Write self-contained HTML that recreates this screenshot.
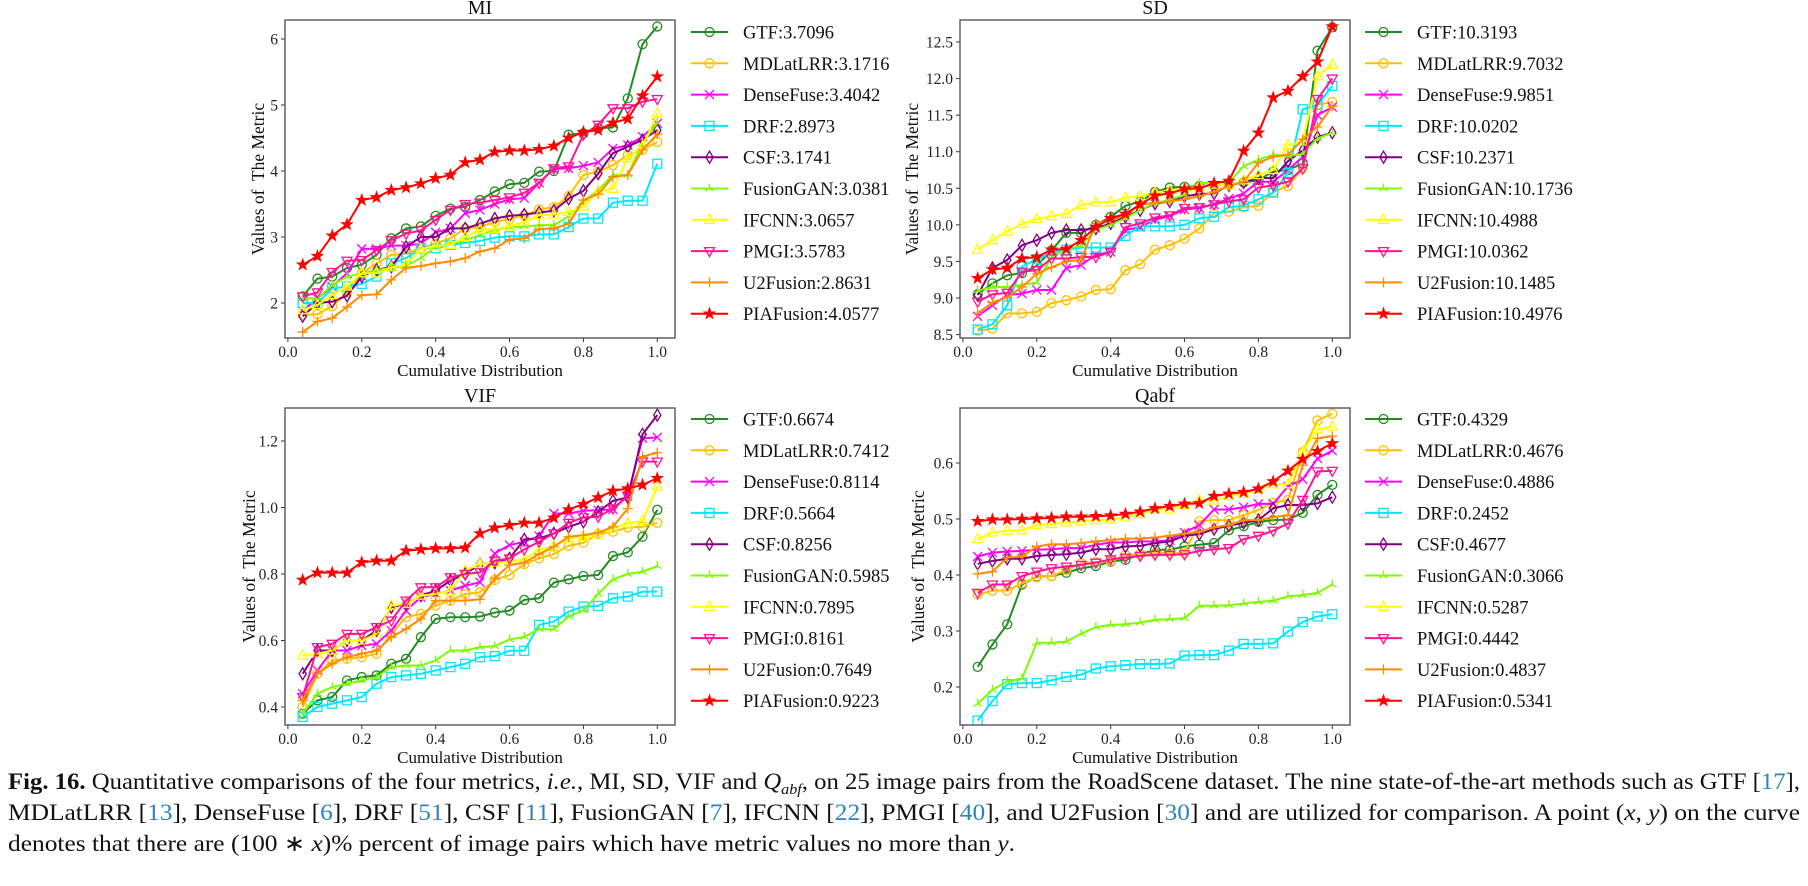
<!DOCTYPE html>
<html><head><meta charset="utf-8"><style>
html,body{margin:0;padding:0;background:#fff;}
svg{display:block;font-family:"Liberation Serif",serif;}
</style></head><body>
<svg id="fig" width="1808" height="886" viewBox="0 0 1808 886" xmlns="http://www.w3.org/2000/svg">
<g id="caption" font-size="23" fill="#111">
<text x="8" y="789" textLength="1792" lengthAdjust="spacingAndGlyphs"><tspan font-weight="bold">Fig. 16.</tspan>  Quantitative comparisons of the four metrics, <tspan font-style="italic">i.e.</tspan>, MI, SD, VIF and <tspan font-style="italic">Q</tspan><tspan font-style="italic" font-size="15" dy="5">abf</tspan><tspan dy="-5">, on 25 image pairs from the RoadScene dataset. The nine state-of-the-art methods such as GTF [</tspan><tspan fill="#2a86b8">17</tspan>],</text>
<text x="8" y="820" textLength="1792" lengthAdjust="spacingAndGlyphs">MDLatLRR [<tspan fill="#2a86b8">13</tspan>], DenseFuse [<tspan fill="#2a86b8">6</tspan>], DRF [<tspan fill="#2a86b8">51</tspan>], CSF [<tspan fill="#2a86b8">11</tspan>], FusionGAN [<tspan fill="#2a86b8">7</tspan>], IFCNN [<tspan fill="#2a86b8">22</tspan>], PMGI [<tspan fill="#2a86b8">40</tspan>], and U2Fusion [<tspan fill="#2a86b8">30</tspan>] and are utilized for comparison. A point (<tspan font-style="italic">x</tspan>, <tspan font-style="italic">y</tspan>) on the curve</text>
<text x="8" y="851" textLength="1007" lengthAdjust="spacingAndGlyphs">denotes that there are (100 ∗ <tspan font-style="italic">x</tspan>)% percent of image pairs which have metric values no more than <tspan font-style="italic">y</tspan>.</text>
</g>
</svg>
<script>
const cumX = [0.04,0.08,0.12,0.16,0.20,0.24,0.28,0.32,0.36,0.40,0.44,0.48,0.52,0.56,0.60,0.64,0.68,0.72,0.76,0.80,0.84,0.88,0.92,0.96,1.00];
const methods = ["GTF","MDLatLRR","DenseFuse","DRF","CSF","FusionGAN","IFCNN","PMGI","U2Fusion","PIAFusion"];

const mi_GTF = [2.10,2.37,2.40,2.53,2.58,2.73,2.98,3.13,3.16,3.32,3.43,3.46,3.56,3.69,3.80,3.82,3.99,4.00,4.55,4.57,4.65,4.66,5.10,5.92,6.19];
const mi_MDL = [1.82,1.83,1.95,2.16,2.45,2.60,2.73,2.75,2.83,2.90,2.98,3.13,3.15,3.23,3.27,3.33,3.42,3.45,3.62,3.94,3.99,4.09,4.24,4.32,4.44];
const mi_Dense = [1.88,2.07,2.25,2.45,2.82,2.82,2.87,2.87,2.90,3.07,3.13,3.36,3.41,3.50,3.57,3.59,3.82,4.03,4.04,4.08,4.13,4.34,4.39,4.52,4.72];
const mi_DRF = [2.00,2.00,2.22,2.25,2.29,2.40,2.60,2.68,2.83,2.83,2.88,2.91,2.94,2.99,3.01,3.01,3.04,3.04,3.15,3.28,3.28,3.52,3.55,3.55,4.11];
const mi_CSF = [1.80,2.00,2.02,2.11,2.40,2.50,2.55,2.85,3.00,3.00,3.13,3.13,3.20,3.28,3.32,3.34,3.37,3.40,3.58,3.70,3.96,4.27,4.37,4.47,4.62];
const mi_FGAN = [2.07,2.07,2.27,2.40,2.45,2.50,2.53,2.56,2.68,2.85,2.90,2.95,3.03,3.11,3.15,3.16,3.18,3.18,3.31,3.54,3.71,3.94,3.94,4.42,4.73];
const mi_IFCNN = [1.89,1.97,2.12,2.25,2.45,2.45,2.54,2.58,2.82,2.86,2.88,3.00,3.11,3.12,3.16,3.23,3.33,3.34,3.38,3.46,3.69,3.73,4.19,4.37,4.87];
const mi_PMGI = [2.10,2.16,2.47,2.64,2.65,2.80,2.95,3.05,3.10,3.26,3.41,3.50,3.52,3.56,3.60,3.67,3.82,4.04,4.07,4.55,4.70,4.95,4.95,5.05,5.09];
const mi_U2 = [1.56,1.72,1.77,1.94,2.12,2.13,2.35,2.53,2.56,2.60,2.63,2.68,2.78,2.83,2.96,2.98,3.12,3.13,3.20,3.56,3.65,3.91,3.94,4.32,4.56];
const mi_PIA = [2.58,2.71,3.02,3.19,3.56,3.60,3.71,3.75,3.81,3.89,3.94,4.13,4.17,4.29,4.31,4.31,4.33,4.38,4.50,4.59,4.62,4.73,4.79,5.14,5.43];

const sd_GTF = [9.05,9.20,9.31,9.34,9.44,9.65,9.89,9.89,10.00,10.11,10.26,10.32,10.45,10.51,10.52,10.53,10.54,10.55,10.58,10.61,10.73,10.75,10.84,12.38,12.70];
const sd_MDL = [8.55,8.58,8.79,8.79,8.81,8.93,8.97,9.02,9.11,9.12,9.38,9.46,9.66,9.72,9.81,9.95,10.16,10.18,10.24,10.26,10.45,10.53,10.77,11.64,11.68];
const sd_Dense = [8.75,8.90,9.04,9.06,9.11,9.11,9.41,9.45,9.59,9.63,9.93,9.97,10.07,10.12,10.21,10.23,10.28,10.36,10.43,10.59,10.59,10.75,10.93,11.50,11.61];
const sd_DRF = [8.57,8.64,8.90,9.43,9.53,9.62,9.66,9.69,9.69,9.69,9.85,9.98,9.98,9.98,10.00,10.09,10.11,10.24,10.26,10.35,10.44,10.71,11.58,11.64,11.90];
const sd_CSF = [9.04,9.41,9.52,9.72,9.79,9.89,9.93,9.93,9.95,10.02,10.11,10.20,10.29,10.32,10.39,10.42,10.43,10.54,10.58,10.64,10.64,10.87,11.02,11.20,11.26];
const sd_FGAN = [9.10,9.15,9.15,9.18,9.21,9.56,9.66,9.72,9.93,10.00,10.09,10.20,10.30,10.34,10.41,10.57,10.58,10.58,10.80,10.89,10.96,10.94,10.97,11.18,11.26];
const sd_IFCNN = [9.66,9.79,9.91,10.01,10.08,10.12,10.15,10.27,10.31,10.31,10.37,10.39,10.44,10.47,10.50,10.52,10.55,10.54,10.61,10.68,10.75,11.09,11.14,12.03,12.19];
const sd_PMGI = [8.95,9.05,9.07,9.36,9.38,9.54,9.54,9.56,9.56,9.63,9.97,10.02,10.10,10.13,10.23,10.24,10.28,10.32,10.35,10.51,10.54,10.59,10.77,11.72,12.00];
const sd_U2 = [8.79,8.94,9.01,9.15,9.33,9.42,9.50,9.52,10.02,10.07,10.13,10.28,10.30,10.32,10.35,10.39,10.45,10.53,10.59,10.85,10.93,10.96,11.17,11.34,11.62];
const sd_PIA = [9.27,9.39,9.41,9.54,9.56,9.66,9.67,9.79,9.97,10.09,10.15,10.28,10.40,10.43,10.49,10.50,10.57,10.60,11.01,11.26,11.74,11.83,12.03,12.23,12.71];

const vif_GTF = [0.380,0.420,0.430,0.480,0.490,0.495,0.530,0.545,0.610,0.665,0.670,0.670,0.672,0.684,0.690,0.722,0.727,0.774,0.784,0.794,0.797,0.854,0.865,0.912,0.993];
const vif_MDL = [0.400,0.500,0.540,0.545,0.550,0.560,0.620,0.670,0.680,0.705,0.720,0.740,0.745,0.782,0.797,0.830,0.847,0.860,0.885,0.894,0.920,0.927,0.940,0.942,0.954];
const vif_Dense = [0.440,0.510,0.570,0.570,0.585,0.590,0.630,0.690,0.730,0.740,0.750,0.765,0.775,0.862,0.887,0.897,0.914,0.982,0.982,0.990,0.992,0.994,1.035,1.208,1.211];
const vif_DRF = [0.370,0.400,0.410,0.420,0.430,0.470,0.490,0.495,0.500,0.510,0.520,0.530,0.550,0.553,0.569,0.569,0.647,0.657,0.687,0.702,0.704,0.727,0.732,0.747,0.747];
const vif_CSF = [0.500,0.570,0.570,0.600,0.600,0.630,0.700,0.710,0.735,0.750,0.780,0.800,0.830,0.834,0.847,0.904,0.907,0.922,0.942,0.957,0.987,1.020,1.030,1.220,1.278];
const vif_FGAN = [0.380,0.440,0.460,0.470,0.480,0.490,0.520,0.525,0.525,0.540,0.570,0.570,0.580,0.583,0.603,0.611,0.634,0.634,0.672,0.690,0.740,0.784,0.800,0.807,0.824];
const vif_IFCNN = [0.555,0.560,0.570,0.600,0.600,0.620,0.705,0.710,0.735,0.740,0.750,0.810,0.830,0.834,0.837,0.844,0.872,0.884,0.907,0.912,0.920,0.937,0.952,0.960,1.063];
const vif_PMGI = [0.430,0.580,0.590,0.620,0.620,0.640,0.660,0.720,0.760,0.760,0.790,0.800,0.805,0.840,0.847,0.874,0.897,0.922,0.954,0.970,0.972,0.997,1.035,1.138,1.138];
const vif_U2 = [0.420,0.500,0.530,0.550,0.560,0.570,0.610,0.635,0.665,0.720,0.720,0.720,0.724,0.787,0.827,0.834,0.860,0.882,0.912,0.917,0.924,0.942,0.997,1.153,1.165];
const vif_PIA = [0.782,0.804,0.804,0.804,0.835,0.840,0.840,0.870,0.874,0.877,0.877,0.879,0.922,0.939,0.947,0.954,0.954,0.969,0.994,1.010,1.030,1.050,1.057,1.068,1.088];

const qabf_GTF = [0.236,0.276,0.312,0.383,0.397,0.398,0.404,0.412,0.416,0.424,0.427,0.437,0.445,0.445,0.451,0.454,0.457,0.480,0.487,0.495,0.498,0.499,0.511,0.543,0.561];
const qabf_MDL = [0.365,0.372,0.372,0.385,0.396,0.398,0.409,0.421,0.423,0.425,0.436,0.437,0.439,0.439,0.439,0.496,0.498,0.498,0.507,0.516,0.529,0.534,0.620,0.676,0.688];
const qabf_Dense = [0.433,0.440,0.442,0.443,0.445,0.446,0.448,0.448,0.454,0.458,0.458,0.460,0.460,0.462,0.476,0.489,0.517,0.517,0.521,0.527,0.527,0.558,0.571,0.608,0.622];
const qabf_DRF = [0.140,0.175,0.205,0.207,0.207,0.212,0.218,0.222,0.233,0.237,0.239,0.241,0.241,0.242,0.256,0.257,0.257,0.265,0.277,0.277,0.278,0.299,0.316,0.326,0.330];
const qabf_CSF = [0.420,0.425,0.429,0.429,0.434,0.436,0.437,0.440,0.446,0.446,0.451,0.452,0.457,0.460,0.470,0.473,0.482,0.488,0.493,0.498,0.519,0.525,0.525,0.528,0.539];
const qabf_FGAN = [0.170,0.195,0.210,0.215,0.279,0.279,0.281,0.295,0.307,0.311,0.312,0.315,0.320,0.321,0.323,0.345,0.345,0.346,0.349,0.352,0.354,0.362,0.364,0.368,0.383];
const qabf_IFCNN = [0.464,0.476,0.479,0.480,0.489,0.491,0.494,0.496,0.498,0.499,0.504,0.509,0.517,0.517,0.525,0.534,0.533,0.541,0.545,0.553,0.562,0.562,0.620,0.660,0.665];
const qabf_PMGI = [0.368,0.383,0.383,0.398,0.406,0.412,0.415,0.418,0.422,0.428,0.431,0.434,0.436,0.436,0.437,0.443,0.446,0.448,0.464,0.470,0.479,0.492,0.534,0.585,0.586];
const qabf_U2 = [0.402,0.406,0.431,0.433,0.451,0.455,0.455,0.457,0.460,0.462,0.465,0.465,0.467,0.470,0.474,0.477,0.485,0.489,0.498,0.498,0.503,0.507,0.596,0.644,0.648];
const qabf_PIA = [0.496,0.499,0.499,0.500,0.501,0.502,0.504,0.504,0.505,0.506,0.509,0.513,0.519,0.523,0.527,0.528,0.541,0.545,0.548,0.554,0.567,0.586,0.607,0.621,0.635];

const miScores = ["3.7096","3.1716","3.4042","2.8973","3.1741","3.0381","3.0657","3.5783","2.8631","4.0577"];
const sdScores = ["10.3193","9.7032","9.9851","10.0202","10.2371","10.1736","10.4988","10.0362","10.1485","10.4976"];
const vifScores = ["0.6674","0.7412","0.8114","0.5664","0.8256","0.5985","0.7895","0.8161","0.7649","0.9223"];
const qabfScores = ["0.4329","0.4676","0.4886","0.2452","0.4677","0.3066","0.5287","0.4442","0.4837","0.5341"];

const xTicks = [0.0,0.2,0.4,0.6,0.8,1.0];
const miTicks = [2,3,4,5,6];
const sdTicks = [8.5,9.0,9.5,10.0,10.5,11.0,11.5,12.0,12.5];
const vifTicks = [0.4,0.6,0.8,1.0,1.2];
const qabfTicks = [0.2,0.3,0.4,0.5,0.6];

const colors = ["#228b22","#ffc000","#ff00ff","#00e8ff","#800080","#7cfc00","#ffff00","#ff1493","#ff8c00","#ff0000"];
const markers = ["o","o","x","s","d","1","^","v","+","*"];

const NS = "http://www.w3.org/2000/svg";
const svg = document.getElementById("fig");
function mk(tag, attrs, parent){
  const e = document.createElementNS(NS, tag);
  for (const k in attrs) e.setAttribute(k, attrs[k]);
  parent.appendChild(e);
  return e;
}
function marker(type, cx, cy, col, g){
  const r = 4.5; let e;
  const base = {fill:"none", stroke:col, "stroke-width":1.3};
  if (type === "o") e = mk("circle", Object.assign({cx:cx, cy:cy, r:r}, base), g);
  else if (type === "s") e = mk("rect", Object.assign({x:cx-r, y:cy-r, width:2*r, height:2*r}, base), g);
  else if (type === "d") e = mk("polygon", Object.assign({points:`${cx},${cy-6} ${cx+3.6},${cy} ${cx},${cy+6} ${cx-3.6},${cy}`}, base), g);
  else if (type === "^") e = mk("polygon", Object.assign({points:`${cx},${cy-5.5} ${cx+5},${cy+3.5} ${cx-5},${cy+3.5}`}, base), g);
  else if (type === "v") e = mk("polygon", Object.assign({points:`${cx},${cy+5.5} ${cx+5},${cy-3.5} ${cx-5},${cy-3.5}`}, base), g);
  else if (type === "x") e = mk("path", Object.assign({d:`M${cx-4.5},${cy-4.5}L${cx+4.5},${cy+4.5}M${cx-4.5},${cy+4.5}L${cx+4.5},${cy-4.5}`}, base), g);
  else if (type === "+") e = mk("path", Object.assign({d:`M${cx-5},${cy}L${cx+5},${cy}M${cx},${cy-5}L${cx},${cy+5}`}, base), g);
  else if (type === "1") e = mk("path", Object.assign({d:`M${cx},${cy}L${cx},${cy-5}M${cx},${cy}L${cx+4.3},${cy+2.5}M${cx},${cy}L${cx-4.3},${cy+2.5}`}, base), g);
  else {
    let pts = [];
    for (let i=0;i<10;i++){ const a = -Math.PI/2 + i*Math.PI/5; const rr = i%2 ? 2.4 : 6; pts.push((cx+rr*Math.cos(a)).toFixed(2)+","+(cy+rr*Math.sin(a)).toFixed(2)); }
    e = mk("polygon", {points:pts.join(" "), fill:col, stroke:col, "stroke-width":0.8}, g);
  }
  
  
}

const panels = [
  {id:"mi", title:"MI", box:[285,20,675,338], x0:287.9, yref:[6,39,66], ticks:miTicks, dec:0, series:[mi_GTF,mi_MDL,mi_Dense,mi_DRF,mi_CSF,mi_FGAN,mi_IFCNN,mi_PMGI,mi_U2,mi_PIA], scores:miScores, lx:691, ly:32, ylabx:258},
  {id:"sd", title:"SD", box:[960,20,1350,338], x0:962.9, yref:[12.5,42,73.14], ticks:sdTicks, dec:1, series:[sd_GTF,sd_MDL,sd_Dense,sd_DRF,sd_CSF,sd_FGAN,sd_IFCNN,sd_PMGI,sd_U2,sd_PIA], scores:sdScores, lx:1365, ly:32, ylabx:912},
  {id:"vif", title:"VIF", box:[285,408,675,725], x0:287.9, yref:[1.2,441,332.5], ticks:vifTicks, dec:1, series:[vif_GTF,vif_MDL,vif_Dense,vif_DRF,vif_CSF,vif_FGAN,vif_IFCNN,vif_PMGI,vif_U2,vif_PIA], scores:vifScores, lx:691, ly:419, ylabx:249},
  {id:"qabf", title:"Qabf", box:[960,408,1350,725], x0:962.9, yref:[0.6,463,560], ticks:qabfTicks, dec:1, series:[qabf_GTF,qabf_MDL,qabf_Dense,qabf_DRF,qabf_CSF,qabf_FGAN,qabf_IFCNN,qabf_PMGI,qabf_U2,qabf_PIA], scores:qabfScores, lx:1365, ly:419, ylabx:918}
];

panels.forEach(p => {
  const [l,t,r,b] = p.box;
  const xS = v => p.x0 + v*369.4;
  const yS = v => p.yref[1] + (p.yref[0]-v)*p.yref[2];
  const g = mk("g", {}, svg);
  
  
  const ttl = mk("text", {x:(l+r)/2, y:t-6, "text-anchor":"middle", "font-size":20, fill:"#111"}, g);
  ttl.textContent = p.title;
  
  
  const clipId = "clip-" + p.id;
  const cp = mk("clipPath", {id:clipId}, g);
  mk("rect", {x:l, y:t, width:r-l, height:b-t}, cp);
  xTicks.forEach(v => {
    const x = xS(v);
    const tk = mk("line", {x1:x, x2:x, y1:b, y2:b+4, stroke:"#333", "stroke-width":1}, g);
    
    
    const tl = mk("text", {x:x, y:b+19, "text-anchor":"middle", "font-size":15.5, fill:"#222"}, g);
    tl.textContent = v.toFixed(1);
    
    
  });
  p.ticks.forEach(v => {
    const y = yS(v);
    const tk = mk("line", {x1:l-4, x2:l, y1:y, y2:y, stroke:"#333", "stroke-width":1}, g);
    
    
    const tl = mk("text", {x:l-7, y:y+5.5, "text-anchor":"end", "font-size":15.5, fill:"#222"}, g);
    tl.textContent = v.toFixed(p.dec);
    
    
  });
  const xl = mk("text", {x:(l+r)/2, y:b+38, "text-anchor":"middle", "font-size":17, fill:"#111"}, g);
  xl.textContent = "Cumulative Distribution";
  
  
  const yl = mk("text", {x:0, y:0, "text-anchor":"middle", "font-size":17.5, fill:"#111", transform:`translate(${p.ylabx+6},${(t+b)/2}) rotate(-90)`}, g);
  yl.textContent = "Values of  The Metric";
  yl.style.whiteSpace = "pre";
  
  
  const sg = mk("g", {"clip-path":`url(#${clipId})`}, g);
  
  
  p.series.forEach((vals, si) => {
    const col = colors[si];
    const pts = vals.map((v,i) => xS(cumX[i]).toFixed(2) + "," + yS(v).toFixed(2)).join(" ");
    const ln = mk("polyline", {points:pts, fill:"none", stroke:col, "stroke-width":2, "stroke-linejoin":"round"}, sg);
    
    
    vals.forEach((v,i) => marker(markers[si], xS(cumX[i]), yS(v), col, sg));
  });
  const frame = mk("rect", {x:l, y:t, width:r-l, height:b-t, fill:"none", stroke:"#555", "stroke-width":1.4}, g);
  
  
  const lg = mk("g", {}, g);
  
  
  methods.forEach((m, si) => {
    const y = p.ly + si*31.3;
    const eg = mk("g", {}, lg);
    
    
    mk("line", {x1:p.lx, x2:p.lx+37, y1:y, y2:y, stroke:colors[si], "stroke-width":2}, eg);
    marker(markers[si], p.lx+18.5, y, colors[si], eg);
    const tx = mk("text", {x:p.lx+52, y:y+6.5, "font-size":18.5, fill:"#111"}, eg);
    tx.textContent = m + ":" + p.scores[si];
  });
});
</script>
</body></html>
